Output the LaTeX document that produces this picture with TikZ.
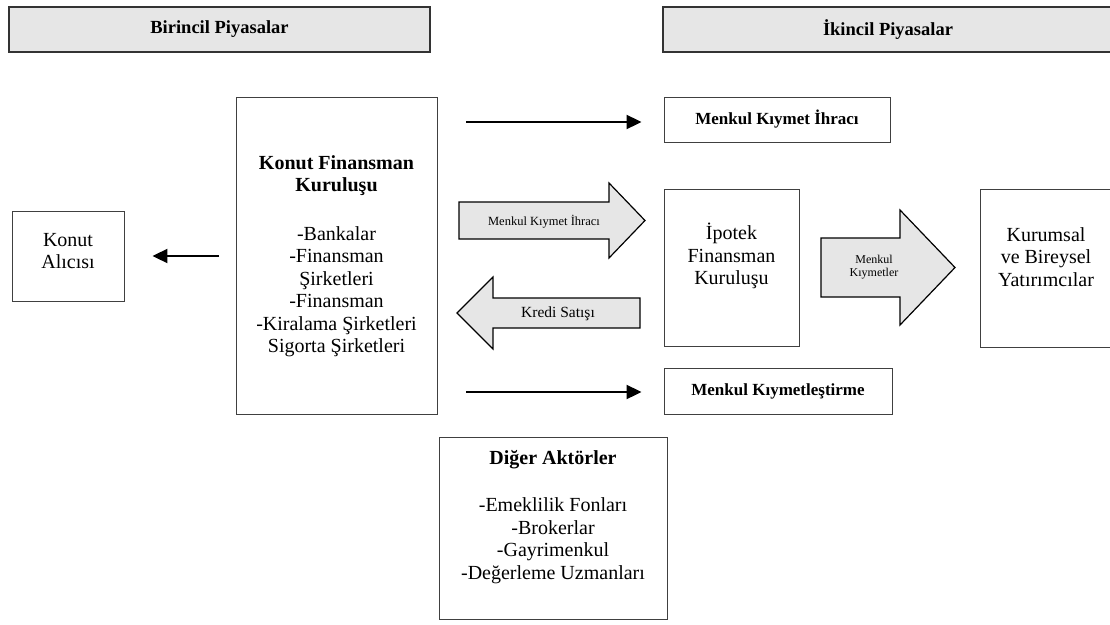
\documentclass[tikz,border=0pt]{standalone}
\usepackage{fontspec}
\setmainfont{Liberation Serif}
\usetikzlibrary{arrows.meta}
\usepackage{xcolor}
\definecolor{panelgray}{HTML}{E6E6E6}

\begin{document}
\begin{tikzpicture}[
    x=1pt, y=-1pt,
    every node/.style={align=center, inner sep=0pt, font=\fontsize{20}{22.5}\selectfont},
    header/.style={draw=black!80, fill=panelgray, line width=1.1pt, font=\fontsize{18.5}{21}\selectfont\bfseries},
    box/.style={draw=black!75, line width=0.9pt},
    smallbox/.style={draw=black!75, line width=0.9pt, font=\fontsize{17}{20}\selectfont\bfseries},
    linearrow/.style={line width=2pt, -{Triangle[length=15pt, width=14pt]}},
    blockarrow/.style={draw=black, line width=1.2pt, fill=panelgray, line join=miter}
]
\useasboundingbox (0,0) rectangle (1110,624);

% headers
\node[header, minimum width=421pt, minimum height=45pt] (birincil) at (219.5,29.5) {Birincil Piyasalar};
\node[header, minimum width=450pt, minimum height=45pt] (ikincil) at (888,29.5) {İkincil Piyasalar};

% primary market
\node[box, minimum width=201pt, minimum height=317pt] (konutfin) at (336.5,256)
    {\textbf{Konut Finansman}\\\textbf{Kuruluşu}\\[26pt]-Bankalar\\-Finansman\\Şirketleri\\-Finansman\\-Kiralama Şirketleri\\Sigorta Şirketleri};
\node[box, minimum width=112pt, minimum height=90pt] (alici) at (68,256) {};
\node (alicitext) at (68,251) {Konut\\Alıcısı};
\node[box, minimum width=228pt, minimum height=182pt] (diger) at (553,528) {};
\node (digertext) at (553,517) {\textbf{Diğer Aktörler}\\[25pt]-Emeklilik Fonları\\-Brokerlar\\-Gayrimenkul\\-Değerleme Uzmanları};

% secondary market
\node[smallbox, minimum width=226pt, minimum height=45pt] (ihrac) at (777,119.5) {Menkul Kıymet İhracı};
\node[smallbox, minimum width=228pt, minimum height=46pt] (menkul) at (778,391) {Menkul Kıymetleştirme};
\node[box, minimum width=135pt, minimum height=157pt] (ipotek) at (731.5,267.5) {};
\node (ipotektext) at (731.5,256) {İpotek\\Finansman\\Kuruluşu};
\node[box, minimum width=132pt, minimum height=158pt] (yatirimci) at (1046,268) {};
\node (yatirimcitext) at (1046,257) {Kurumsal\\ve Bireysel\\Yatırımcılar};

% plain arrows
\coordinate (alicistart) at (219,256);
\coordinate (ihracstart) at (466,122);
\coordinate (menkulstart) at (466,392);
\draw[linearrow, shorten >=28pt] (alicistart) -- (alicistart -| alici.east);
\draw[linearrow, shorten >=22pt] (ihracstart) -- (ihracstart -| ihrac.west);
\draw[linearrow, shorten >=22pt] (menkulstart) -- (menkulstart -| menkul.west);

% block arrows
\draw[blockarrow] (459,202) -- (609,202) -- (609,183) -- (645,220.5) -- (609,258) -- (609,239) -- (459,239) -- cycle;
\node[font=\fontsize{12.5}{14}\selectfont] (ihraclabel) at (544,222) {Menkul Kıymet İhracı};

\draw[blockarrow] (640,298) -- (493,298) -- (493,277) -- (457,313) -- (493,349) -- (493,328) -- (640,328) -- cycle;
\node[font=\fontsize{15.5}{17}\selectfont] (kredilabel) at (558,314) {Kredi Satışı};

\draw[blockarrow] (821,238) -- (900,238) -- (900,210) -- (955,267.5) -- (900,325) -- (900,297) -- (821,297) -- cycle;
\node[font=\fontsize{12}{13}\selectfont] (menkullabel) at (874,267) {Menkul\\Kıymetler};

\end{tikzpicture}
\end{document}
